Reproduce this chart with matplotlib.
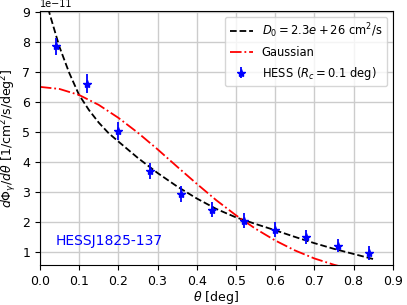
import numpy as np
import matplotlib
matplotlib.use('Agg')
import matplotlib.pyplot as plt

# HESS radial profile (units of 1e-11)
theta_data = np.array([0.04, 0.12, 0.20, 0.28, 0.36, 0.44, 0.52, 0.60, 0.68, 0.76, 0.84])
flux_data = np.array([7.87, 6.63, 5.05, 3.71, 2.96, 2.43, 2.05, 1.76, 1.52, 1.23, 0.99]) * 1e-11
flux_err = np.array([0.28, 0.32, 0.30, 0.27, 0.27, 0.26, 0.25, 0.24, 0.23, 0.23, 0.23]) * 1e-11

# diffusion model curve
theta_diff = np.array([0.0125, 0.025, 0.05, 0.075, 0.10, 0.125, 0.15, 0.175, 0.20, 0.25,
                       0.30, 0.35, 0.40, 0.45, 0.50, 0.55, 0.60, 0.65, 0.70, 0.75, 0.80, 0.85])
flux_diff = np.array([9.6, 8.95, 7.85, 6.98, 6.25, 5.75, 5.33, 4.98, 4.7, 4.15,
                      3.65, 3.2, 2.8, 2.45, 2.17, 1.95, 1.74, 1.52, 1.31, 1.12, 0.95, 0.78]) * 1e-11

# gaussian curve
theta_gauss = np.array([0.0, 0.05, 0.10, 0.15, 0.20, 0.25, 0.30, 0.35, 0.40,
                        0.45, 0.50, 0.55, 0.60, 0.65, 0.70, 0.75, 0.80, 0.85])
flux_gauss = np.array([6.52, 6.45, 6.25, 5.92, 5.49, 4.99, 4.44, 3.86, 3.29,
                       2.74, 2.24, 1.79, 1.40, 1.07, 0.80, 0.59, 0.42, 0.29]) * 1e-11

fig = plt.figure(figsize=(4.07, 3.05), dpi=100)
ax = fig.add_axes([0.098, 0.131, 0.867, 0.833])

ax.plot(theta_diff, flux_diff, 'k--', lw=1.3, label=r'$D_0 = 2.3e+26$ cm$^2$/s')
ax.plot(theta_gauss, flux_gauss, 'r-.', lw=1.3, label='Gaussian')
ax.errorbar(theta_data, flux_data, yerr=flux_err, fmt='*', color='b', ms=6,
            elinewidth=1.3, label=r'HESS ($R_c = 0.1$ deg)')

ax.text(0.041, 1.39e-11, 'HESSJ1825-137', color='b', fontsize=10, va='center')

ax.set_xlim(0, 0.9)
ax.set_ylim(0.58e-11, 9.05e-11)
ax.set_xticks(np.arange(0, 0.91, 0.1))
ax.set_yticks(np.arange(1, 10) * 1e-11)
ax.tick_params(labelsize=9)
ax.yaxis.get_offset_text().set_fontsize(7)
ax.grid(True, color='#cccccc', lw=1)
ax.set_xlabel(r'$\theta$ [deg]', fontsize=9, labelpad=1)
ax.set_ylabel(r'$d\Phi_\gamma/d\theta$ [1/cm$^2$/s/deg$^2$]', fontsize=9, labelpad=2)
ax.legend(loc='upper right', fontsize=8.3)

fig.savefig('out.png', dpi=100)
